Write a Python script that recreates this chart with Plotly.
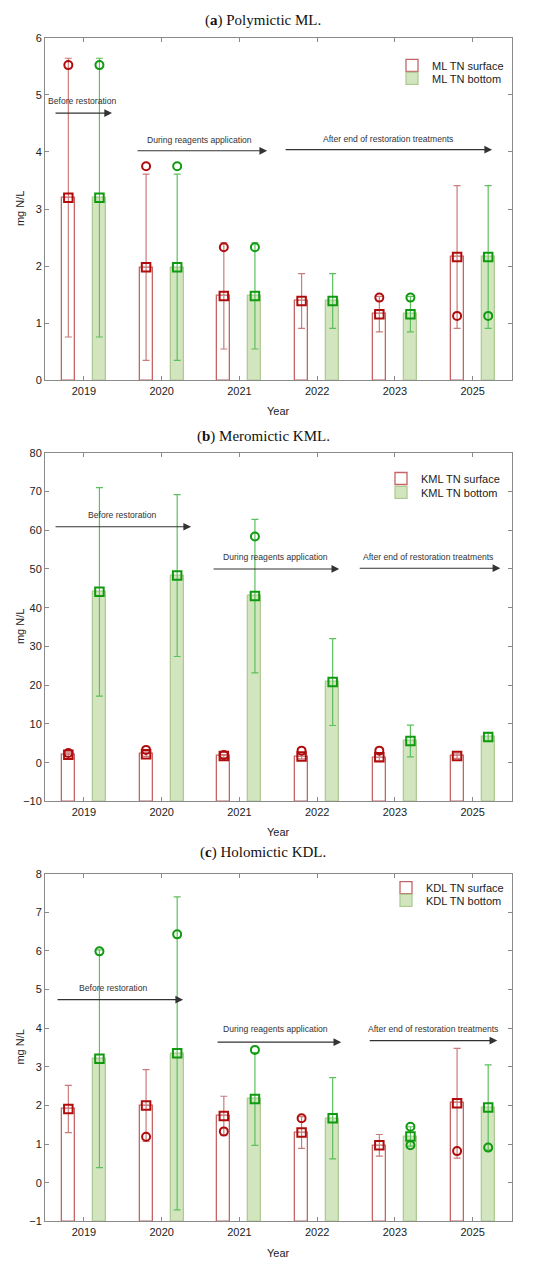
import numpy as np
import plotly.graph_objects as go

# ---------------- data ----------------
years = ["2019", "2020", "2021", "2022", "2023", "2025"]

# (a) Polymictic ML
ml_surf_mean = [3.20, 1.98, 1.48, 1.39, 1.16, 2.16]
ml_surf_sd = [2.44, 1.63, 0.93, 0.48, 0.31, 1.25]
ml_surf_circ = [5.52, 3.75, 2.33, None, 1.45, 1.13]
ml_bot_mean = [3.20, 1.98, 1.48, 1.39, 1.16, 2.16]
ml_bot_sd = [2.44, 1.63, 0.93, 0.48, 0.31, 1.25]
ml_bot_circ = [5.52, 3.75, 2.33, None, 1.45, 1.13]

# (b) Meromictic KML
kml_surf_mean = [2.05, 2.20, 1.70, 1.60, 1.40, 1.70]
kml_surf_sd = [0.5, 0.6, 0.4, 0.6, 0.9, 0.6]
kml_surf_circ = [2.5, 3.3, 2.0, 3.1, 3.1, None]
kml_bot_mean = [44.1, 48.3, 43.0, 20.8, 5.6, 6.6]
kml_bot_sd = [26.9, 20.9, 19.8, 11.2, 4.1, 1.0]
kml_bot_circ = [None, None, 58.4, None, None, None]

# (c) Holomictic KDL
kdl_surf_mean = [1.91, 2.00, 1.73, 1.30, 0.97, 2.06]
kdl_surf_sd = [0.61, 0.93, 0.51, 0.41, 0.28, 1.42]
kdl_surf_circ = [None, 1.19, 1.33, 1.67, None, 0.82]
kdl_bot_mean = [3.21, 3.35, 2.17, 1.67, 1.20, 1.95]
kdl_bot_sd = [2.82, 4.05, 1.20, 1.05, 0.25, 1.10]
kdl_bot_circ = [5.99, 6.43, 3.44, None, 1.45, 0.91]
kdl_bot_circ2 = [None, None, None, None, 0.97, None]

phase_labels = ["Before restoration", "During reagents application",
                "After end of restoration treatments"]

# ---------------- styling / layout ----------------
W, H = 550, 1270
RED_BAR = "#c46464"
RED_ERR = "#cc7a7a"
RED_MK = "#b00c0c"
GRN_FILL = "#d3e5bf"
GRN_LINE = "#aecb95"
GRN_ERR = "#5cc05c"
GRN_MK = "#0f9a0f"
AXC = "#8a8a8a"
SANS = "Liberation Sans, Arial, sans-serif"
SERIF = "Liberation Serif, Times New Roman, serif"

def py(px):
    return 1 - px / H

x_dom = [45 / W, 511.5 / W]
panels = [
    dict(title="(<b>a</b>) Polymictic ML.", top=32, bot=378, rng=[0, 6], dtick=1,
         name="ML",
         surf=(ml_surf_mean, ml_surf_sd, [ml_surf_circ]),
         bot_=(ml_bot_mean, ml_bot_sd, [ml_bot_circ]),
         arrows=[(-0.384, 0.362, 4.68, -0.017, 4.89),
                 (0.671, 2.357, 4.02, 1.482, 4.21),
                 (2.576, 5.25, 4.04, 3.914, 4.23)],
         title_y=15, year_y=409, leg_y=(60, 73), leg_x=392),
    dict(title="(<b>b</b>) Meromictic KML.", top=451, bot=803, rng=[-10, 80], dtick=10,
         name="KML",
         surf=(kml_surf_mean, kml_surf_sd, [kml_surf_circ]),
         bot_=(kml_bot_mean, kml_bot_sd, [kml_bot_circ]),
         arrows=[(-0.384, 1.379, 60.9, 0.491, 63.8),
                 (1.649, 3.284, 50.0, 2.46, 53.0),
                 (3.528, 5.356, 50.2, 4.43, 53.0)],
         title_y=435, year_y=834, leg_y=(477, 491), leg_x=381),
    dict(title="(<b>c</b>) Holomictic KDL.", top=876, bot=1227, rng=[-1, 8], dtick=1,
         name="KDL",
         surf=(kdl_surf_mean, kdl_surf_sd, [kdl_surf_circ]),
         bot_=(kdl_bot_mean, kdl_bot_sd, [kdl_bot_circ, kdl_bot_circ2]),
         arrows=[(-0.358, 1.276, 4.74, 0.375, 5.03),
                 (1.70, 3.31, 3.64, 2.46, 3.98),
                 (3.657, 5.317, 3.68, 4.494, 3.98)],
         title_y=855, year_y=1259, leg_y=(890, 903), leg_x=386),
]

fig = go.Figure()
idx = np.arange(len(years))
OFF = 0.2
BW = 0.167
annotations = []
layout = {}
leg_count = 0

for p_i, p in enumerate(panels):
    n = "" if p_i == 0 else str(p_i + 1)
    xa, ya = "x" + n, "y" + n
    ymin = p["rng"][0]
    for k_i, (kind, (mean, sd, circs), off) in enumerate(
            (("surface", p["surf"], -OFF), ("bottom", p["bot_"], OFF))):
        leg_count += 1
        leg = "legend" if leg_count == 1 else f"legend{leg_count}"
        layout[leg] = dict(x=p["leg_x"] / W, y=py(p["leg_y"][k_i]), xanchor="left",
                           yanchor="middle", bgcolor="rgba(0,0,0,0)",
                           font=dict(family=SANS, size=11, color="#222"),
                           itemwidth=30)
        mean = np.array(mean, dtype=float)
        xs = idx + off
        is_s = kind == "surface"
        fig.add_trace(go.Bar(
            x=xs, y=mean - ymin, base=ymin, width=BW, xaxis=xa, yaxis=ya,
            name=f"{p['name']} TN {kind}", legend=leg, showlegend=True,
            marker=dict(color="rgba(255,255,255,0)" if is_s else GRN_FILL,
                        line=dict(color=RED_BAR if is_s else GRN_LINE, width=1.3)),
            hoverinfo="skip"))
        fig.add_trace(go.Scatter(
            x=xs, y=mean, mode="markers", xaxis=xa, yaxis=ya, showlegend=False,
            error_y=dict(type="data", array=sd, symmetric=True,
                         color=RED_ERR if is_s else GRN_ERR, thickness=1.2, width=3.5),
            marker=dict(symbol="square-open", size=8.5,
                        color=RED_MK if is_s else GRN_MK, line=dict(width=2))))
        for c in circs:
            fig.add_trace(go.Scatter(
                x=xs, y=c, mode="markers", xaxis=xa, yaxis=ya, showlegend=False,
                marker=dict(symbol="circle-open", size=8,
                            color=RED_MK if is_s else GRN_MK, line=dict(width=2))))
    dom = [py(p["bot"]), py(p["top"])]
    ax_common = dict(showline=True, linecolor=AXC, linewidth=1, mirror="ticks",
                     ticks="inside", ticklen=4, tickcolor=AXC, showgrid=False,
                     zeroline=False, tickfont=dict(family=SANS, size=11, color="#222"))
    layout["xaxis" + n] = dict(domain=x_dom, range=[-0.5, 5.5], tickvals=list(idx),
                               ticktext=years, anchor=ya, fixedrange=True, **ax_common)
    layout["yaxis" + n] = dict(domain=dom, range=p["rng"], dtick=p["dtick"],
                               anchor=xa, **ax_common)
    annotations.append(dict(text=p["title"], x=263 / W, y=py(p["title_y"]), xref="paper",
                            yref="paper", showarrow=False, xanchor="center", yanchor="middle",
                            font=dict(family=SERIF, size=15, color="#111")))
    annotations.append(dict(text="Year", x=278 / W, y=py(p["year_y"]), xref="paper",
                            yref="paper", showarrow=False, xanchor="center", yanchor="middle",
                            font=dict(family=SANS, size=11, color="#222")))
    annotations.append(dict(text="mg N/L", x=20 / W, y=py((p["top"] + p["bot"]) / 2),
                            xref="paper", yref="paper", showarrow=False, textangle=-90,
                            xanchor="center", yanchor="middle",
                            font=dict(family=SANS, size=11, color="#222")))
    for lab, (x0, x1, yy, tx, ty) in zip(phase_labels, p["arrows"]):
        annotations.append(dict(text="", x=x1, y=yy, ax=x0, ay=yy, xref=xa, yref=ya,
                                axref=xa, ayref=ya, showarrow=True, arrowhead=2,
                                arrowsize=1.4, arrowwidth=1.1, arrowcolor="#333",
                                standoff=0, startstandoff=0))
        annotations.append(dict(text=lab, x=tx, y=ty, xref=xa, yref=ya, showarrow=False,
                                xanchor="center", yanchor="middle",
                                font=dict(family=SANS, size=8.6, color="#333")))

fig.update_layout(width=W, height=H, margin=dict(l=0, r=0, t=0, b=0),
                  paper_bgcolor="white", plot_bgcolor="white",
                  bargap=0, annotations=annotations, **layout)

fig.write_html("out.html", config={"displayModeBar": False},
               post_script="document.body.style.margin='0';document.body.style.overflow='hidden';")
